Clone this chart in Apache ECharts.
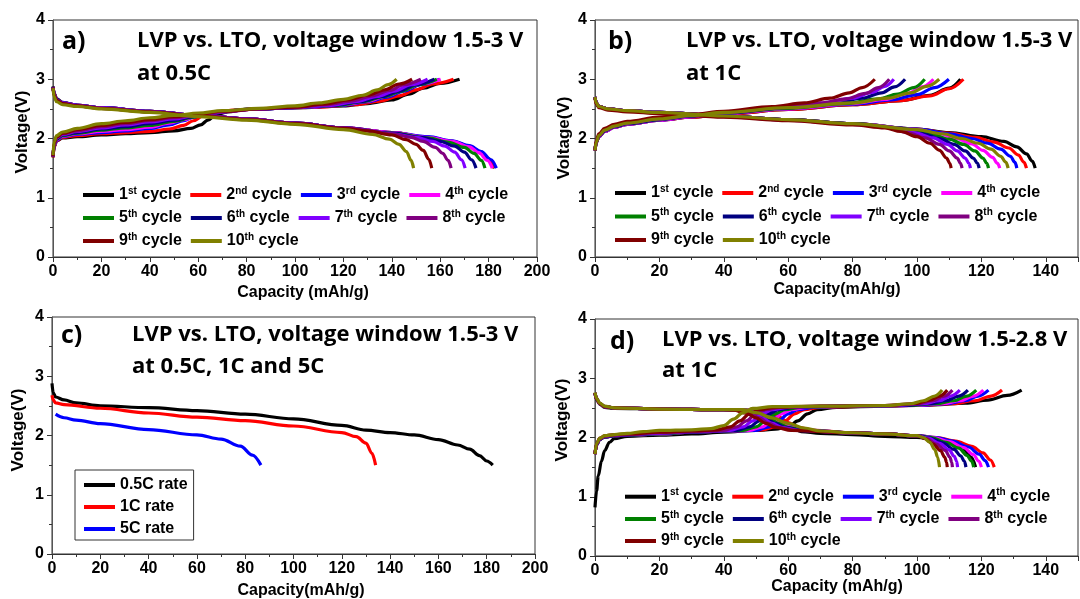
<!DOCTYPE html>
<html>
<head>
<meta charset="utf-8">
<script src="https://cdn.jsdelivr.net/npm/echarts/dist/echarts.min.js"></script>
<style>
html,body{margin:0;padding:0;background:#fff;}
#chart{width:1080px;height:599px;}
</style>
</head>
<body>
<div id="chart"></div>
<script>
// ---------------- DATA ----------------
const cycleNames = ['1st cycle','2nd cycle','3rd cycle','4th cycle','5th cycle','6th cycle','7th cycle','8th cycle','9th cycle','10th cycle'];
const cycleColors = ['#000000','#ff0000','#0000ff','#ff00ff','#008000','#000080','#8000ff','#800080','#800000','#808000'];
const rateNames = ['0.5C rate','1C rate','5C rate'];
const rateColors = ['#000000','#ff0000','#0000ff'];
const xTicksAC = [0,200];
const xTicksBD = [0,150];
const yRange = [0,4];

// Panel a: 1.5-3 V at 0.5C  [capacity mAh/g, voltage V]
const aDischarge = [
 [[0,2.88],[0.5,2.76],[1.5,2.67],[4,2.61],[10,2.56],[20,2.52],[40,2.46],[60,2.39],[80,2.33],[100,2.26],[120,2.18],[140,2.1],[155,2.02],[165,1.95],[172,1.87],[177,1.77],[180,1.66],[182.5,1.5]],
 [[0,2.87],[0.5,2.75],[1.5,2.66],[4,2.6],[10,2.56],[20,2.52],[40,2.46],[60,2.39],[80,2.33],[100,2.26],[120,2.18],[140,2.1],[155,2.02],[165,1.95],[172,1.86],[177,1.75],[180,1.64],[182,1.5]],
 [[0,2.87],[0.5,2.75],[1.5,2.66],[4,2.6],[10,2.56],[20,2.52],[40,2.46],[60,2.39],[80,2.33],[100,2.26],[120,2.18],[140,2.1],[155,2.03],[165,1.96],[172,1.88],[177,1.78],[181,1.64],[183.2,1.5]],
 [[0,2.87],[0.5,2.75],[1.5,2.66],[4,2.6],[10,2.56],[20,2.52],[40,2.46],[60,2.39],[80,2.33],[100,2.26],[120,2.18],[140,2.1],[155,2.02],[165,1.95],[172,1.86],[176,1.76],[179.5,1.63],[181.5,1.5]],
 [[0,2.87],[0.5,2.75],[1.5,2.66],[4,2.6],[10,2.56],[20,2.52],[40,2.46],[60,2.39],[80,2.33],[100,2.26],[120,2.18],[140,2.09],[155,2.01],[163,1.94],[170,1.85],[174,1.75],[177,1.63],[178.5,1.5]],
 [[0,2.87],[0.5,2.75],[1.5,2.66],[4,2.6],[10,2.56],[20,2.52],[40,2.46],[60,2.39],[80,2.33],[100,2.26],[120,2.18],[140,2.09],[152,2.02],[160,1.95],[166,1.87],[170,1.77],[173,1.64],[174.8,1.5]],
 [[0,2.86],[0.5,2.74],[1.5,2.65],[4,2.6],[10,2.56],[20,2.52],[40,2.46],[60,2.39],[80,2.33],[100,2.26],[120,2.18],[140,2.08],[150,2.02],[157,1.95],[162,1.87],[166,1.77],[168.8,1.64],[170.3,1.5]],
 [[0,2.86],[0.5,2.74],[1.5,2.65],[4,2.59],[10,2.55],[20,2.51],[40,2.45],[60,2.39],[80,2.33],[100,2.26],[120,2.18],[140,2.08],[148,2.02],[153,1.95],[158,1.85],[161,1.75],[163.3,1.63],[164.5,1.5]],
 [[0,2.86],[0.5,2.73],[1.5,2.64],[4,2.59],[10,2.55],[20,2.51],[40,2.45],[60,2.38],[80,2.32],[100,2.25],[120,2.17],[130,2.13],[140,2.06],[146,1.98],[150,1.9],[153,1.8],[155.3,1.65],[156.5,1.5]],
 [[0,2.85],[0.5,2.7],[1.5,2.62],[4,2.57],[10,2.54],[20,2.5],[40,2.44],[60,2.37],[80,2.31],[100,2.24],[120,2.15],[132,2.07],[139,1.99],[143,1.9],[146,1.78],[148,1.63],[149,1.5]]
];
const aCharge = [
 [[0,1.68],[0.5,1.86],[1.5,1.96],[4,2.01],[10,2.03],[20,2.06],[30,2.08],[40,2.1],[50,2.13],[57,2.17],[61,2.23],[64,2.31],[67,2.39],[72,2.45],[80,2.49],[100,2.52],[120,2.55],[130,2.59],[140,2.65],[147,2.75],[153,2.85],[160,2.93],[168,3.0]],
 [[0,1.68],[0.5,1.86],[1.5,1.96],[4,2.02],[10,2.05],[20,2.08],[30,2.1],[40,2.12],[48,2.16],[54,2.22],[58,2.3],[62,2.38],[67,2.44],[75,2.48],[90,2.51],[110,2.53],[125,2.57],[135,2.63],[143,2.72],[150,2.82],[157,2.92],[165.5,3.0]],
 [[0,1.7],[0.5,1.88],[1.5,1.97],[4,2.03],[10,2.07],[20,2.1],[30,2.13],[40,2.17],[48,2.23],[54,2.3],[58,2.36],[63,2.42],[70,2.46],[85,2.5],[105,2.53],[120,2.56],[130,2.62],[138,2.7],[145,2.8],[152,2.91],[159.8,3.0]],
 [[0,1.7],[0.5,1.88],[1.5,1.98],[4,2.04],[10,2.08],[20,2.12],[30,2.15],[40,2.19],[48,2.26],[54,2.32],[60,2.39],[68,2.45],[85,2.5],[105,2.53],[120,2.57],[130,2.63],[138,2.72],[145,2.82],[152,2.92],[160.2,3.0]],
 [[0,1.7],[0.5,1.89],[1.5,1.99],[4,2.05],[10,2.09],[20,2.14],[30,2.18],[40,2.22],[50,2.29],[58,2.36],[66,2.43],[80,2.49],[100,2.52],[118,2.56],[128,2.62],[137,2.71],[144,2.8],[151,2.91],[158.6,3.0]],
 [[0,1.7],[0.5,1.9],[1.5,2.0],[4,2.06],[10,2.1],[20,2.16],[30,2.2],[40,2.25],[50,2.31],[58,2.37],[66,2.43],[80,2.49],[100,2.52],[116,2.56],[127,2.62],[136,2.71],[143,2.8],[150,2.91],[157.6,3.0]],
 [[0,1.7],[0.5,1.9],[1.5,2.01],[4,2.07],[10,2.12],[20,2.18],[30,2.23],[40,2.28],[50,2.33],[58,2.38],[66,2.43],[80,2.49],[100,2.52],[115,2.56],[125,2.62],[134,2.71],[141,2.8],[148,2.91],[154.8,3.0]],
 [[0,1.7],[0.5,1.91],[1.5,2.02],[4,2.08],[10,2.13],[20,2.2],[30,2.25],[40,2.3],[50,2.35],[60,2.4],[70,2.45],[85,2.5],[100,2.53],[113,2.57],[123,2.63],[132,2.72],[139,2.81],[145,2.91],[152,3.0]],
 [[0,1.7],[0.5,1.92],[1.5,2.03],[4,2.09],[10,2.15],[20,2.22],[30,2.27],[40,2.32],[50,2.37],[60,2.41],[70,2.46],[85,2.5],[100,2.53],[112,2.58],[122,2.65],[130,2.73],[137,2.82],[143,2.92],[148.4,3.0]],
 [[0,1.72],[0.5,1.95],[1.5,2.05],[4,2.11],[10,2.17],[20,2.25],[30,2.3],[40,2.35],[50,2.39],[60,2.43],[70,2.47],[85,2.51],[100,2.55],[110,2.6],[120,2.66],[128,2.73],[134,2.82],[138.5,2.91],[142,3.0]]
];

// Panel b: 1.5-3 V at 1C
const bDischarge = [
 [[0,2.7],[0.4,2.6],[1.2,2.54],[4,2.5],[10,2.47],[20,2.44],[40,2.38],[60,2.32],[80,2.25],[100,2.16],[110,2.1],[120,2.03],[127,1.95],[131,1.86],[134,1.74],[135.8,1.62],[136.7,1.5]],
 [[0,2.7],[0.4,2.6],[1.2,2.54],[4,2.5],[10,2.47],[20,2.44],[40,2.38],[60,2.32],[80,2.25],[100,2.16],[110,2.09],[118,2.02],[124,1.94],[128.5,1.84],[131.5,1.72],[133.2,1.6],[134,1.5]],
 [[0,2.7],[0.4,2.6],[1.2,2.54],[4,2.5],[10,2.47],[20,2.44],[40,2.38],[60,2.32],[80,2.25],[100,2.16],[110,2.08],[117,2.0],[122,1.92],[126,1.82],[129,1.7],[130.4,1.6],[131,1.5]],
 [[0,2.7],[0.4,2.6],[1.2,2.54],[4,2.5],[10,2.47],[20,2.44],[40,2.38],[60,2.32],[80,2.25],[100,2.15],[107,2.08],[112,2.0],[117,1.91],[120.5,1.8],[123.5,1.68],[125,1.58],[125.7,1.5]],
 [[0,2.7],[0.4,2.6],[1.2,2.54],[4,2.5],[10,2.47],[20,2.44],[40,2.38],[60,2.32],[80,2.25],[95,2.17],[104,2.08],[110,1.99],[114.5,1.9],[118,1.79],[120.5,1.67],[121.7,1.58],[122.2,1.5]],
 [[0,2.7],[0.4,2.6],[1.2,2.54],[4,2.5],[10,2.47],[20,2.44],[40,2.38],[60,2.32],[80,2.25],[95,2.17],[102,2.08],[107,2.0],[111.5,1.9],[115,1.79],[117.5,1.67],[118.8,1.58],[119.3,1.5]],
 [[0,2.7],[0.4,2.6],[1.2,2.54],[4,2.5],[10,2.47],[20,2.44],[40,2.38],[60,2.31],[80,2.24],[90,2.2],[99,2.1],[105,2.01],[109.5,1.9],[112.5,1.79],[115,1.67],[116.1,1.58],[116.6,1.5]],
 [[0,2.7],[0.4,2.6],[1.2,2.54],[4,2.5],[10,2.47],[20,2.43],[40,2.37],[60,2.31],[80,2.24],[90,2.2],[97,2.1],[102.5,2.01],[107,1.9],[110,1.79],[112.5,1.67],[113.5,1.58],[114,1.5]],
 [[0,2.68],[0.4,2.58],[1.2,2.52],[4,2.48],[10,2.45],[20,2.42],[40,2.36],[60,2.3],[80,2.23],[90,2.18],[95,2.12],[100,2.03],[104,1.92],[107,1.8],[109.2,1.67],[110.2,1.58],[110.6,1.5]],
 [[0,2.7],[0.4,2.6],[1.2,2.54],[4,2.5],[10,2.47],[20,2.44],[40,2.38],[60,2.32],[80,2.25],[100,2.15],[108,2.08],[114,2.0],[119,1.92],[123,1.82],[126,1.7],[127.6,1.6],[128.3,1.5]]
];
const bCharge = [
 [[0,1.8],[0.4,1.93],[1.2,2.03],[3,2.12],[6,2.19],[10,2.24],[20,2.31],[30,2.36],[40,2.41],[60,2.49],[80,2.57],[95,2.64],[104,2.73],[110,2.85],[113.5,3.0]],
 [[0,1.8],[0.4,1.93],[1.2,2.03],[3,2.12],[6,2.19],[10,2.24],[20,2.31],[30,2.36],[40,2.41],[60,2.49],[80,2.57],[95,2.64],[104,2.72],[110,2.84],[114.4,3.0]],
 [[0,1.8],[0.4,1.93],[1.2,2.03],[3,2.12],[6,2.19],[10,2.24],[20,2.31],[30,2.37],[40,2.42],[60,2.5],[80,2.58],[92,2.65],[100,2.74],[105.5,2.86],[109.9,3.0]],
 [[0,1.8],[0.4,1.93],[1.2,2.03],[3,2.12],[6,2.19],[10,2.24],[20,2.31],[30,2.37],[40,2.42],[60,2.5],[80,2.59],[90,2.66],[97,2.76],[101.5,2.87],[105.1,3.0]],
 [[0,1.8],[0.4,1.94],[1.2,2.04],[3,2.13],[6,2.2],[10,2.25],[20,2.32],[30,2.38],[40,2.43],[60,2.51],[78,2.59],[88,2.67],[94,2.75],[99,2.86],[102.4,3.0]],
 [[0,1.8],[0.4,1.94],[1.2,2.04],[3,2.13],[6,2.2],[10,2.25],[20,2.32],[30,2.38],[40,2.43],[60,2.52],[75,2.6],[83,2.68],[89,2.77],[93,2.87],[96.3,3.0]],
 [[0,1.8],[0.4,1.95],[1.2,2.05],[3,2.14],[6,2.21],[10,2.26],[20,2.33],[30,2.39],[40,2.44],[60,2.53],[72,2.6],[80,2.68],[86,2.78],[90,2.88],[92.8,3.0]],
 [[0,1.8],[0.4,1.95],[1.2,2.05],[3,2.15],[6,2.22],[10,2.27],[20,2.34],[30,2.39],[40,2.44],[60,2.54],[70,2.6],[78,2.67],[84,2.76],[88,2.86],[91.4,3.0]],
 [[0,1.8],[0.4,1.97],[1.2,2.08],[3,2.17],[6,2.24],[10,2.29],[20,2.36],[30,2.41],[40,2.46],[55,2.54],[65,2.6],[73,2.68],[79,2.77],[83,2.86],[86.9,3.0]],
 [[0,1.8],[0.4,1.94],[1.2,2.05],[3,2.14],[6,2.21],[10,2.26],[20,2.33],[30,2.39],[40,2.44],[60,2.52],[80,2.6],[91,2.68],[98,2.77],[103,2.88],[106.9,3.0]]
];

// Panel c: discharge at 0.5C, 1C, 5C
const cRate05 = [[0,2.88],[0.5,2.72],[1.5,2.65],[5,2.6],[10,2.55],[20,2.5],[40,2.47],[60,2.42],[80,2.36],[100,2.28],[120,2.17],[130,2.09],[140,2.05],[150,2.01],[160,1.93],[168,1.84],[173,1.77],[177,1.66],[180,1.57],[182.5,1.5]];
const cRate1 = [[0,2.68],[0.5,2.6],[1.5,2.55],[5,2.52],[20,2.46],[40,2.38],[60,2.31],[80,2.25],[100,2.16],[120,2.05],[126,1.98],[130,1.87],[132.5,1.7],[134,1.5]];
const cRate5 = [[1.5,2.36],[5,2.3],[10,2.26],[20,2.2],[40,2.1],[60,2.01],[70,1.94],[78,1.82],[83,1.67],[86.5,1.5]];

// Panel d: 1.5-2.8 V at 1C
const dDischarge = [
 [[0,2.75],[0.5,2.64],[1.5,2.56],[3,2.51],[6,2.49],[20,2.48],[40,2.47],[50,2.46],[55,2.42],[58,2.3],[61,2.17],[64,2.1],[70,2.07],[80,2.05],[90,2.02],[100,2.0],[106,1.97],[111,1.9],[114.5,1.8],[116.8,1.67],[118.2,1.5]],
 [[0,2.75],[0.5,2.65],[1.5,2.57],[3,2.52],[6,2.5],[20,2.48],[40,2.47],[48,2.46],[53,2.43],[57,2.35],[60,2.25],[63,2.17],[68,2.12],[80,2.08],[90,2.06],[100,2.03],[106,2.0],[112,1.94],[117,1.85],[120.5,1.74],[122.8,1.62],[124,1.5]],
 [[0,2.75],[0.5,2.65],[1.5,2.57],[3,2.52],[6,2.5],[20,2.48],[40,2.47],[47,2.46],[52,2.42],[56,2.33],[59,2.24],[62,2.17],[67,2.12],[80,2.08],[90,2.06],[100,2.03],[106,2.0],[111,1.94],[116,1.84],[119.3,1.72],[121.2,1.61],[122.2,1.5]],
 [[0,2.75],[0.5,2.65],[1.5,2.57],[3,2.52],[6,2.5],[20,2.48],[40,2.47],[46,2.46],[51,2.42],[55,2.33],[58,2.24],[61,2.17],[66,2.12],[80,2.08],[90,2.06],[100,2.03],[105,2.0],[110,1.93],[114.5,1.83],[117.5,1.71],[119.2,1.6],[120,1.5]],
 [[0,2.75],[0.5,2.65],[1.5,2.57],[3,2.52],[6,2.5],[20,2.48],[40,2.47],[45,2.46],[50,2.42],[54,2.33],[57,2.24],[60,2.17],[65,2.12],[80,2.08],[90,2.06],[100,2.03],[104.5,2.0],[109,1.92],[113,1.82],[115.5,1.7],[117,1.6],[117.6,1.5]],
 [[0,2.75],[0.5,2.65],[1.5,2.57],[3,2.52],[6,2.5],[20,2.48],[40,2.47],[45,2.46],[49,2.42],[53,2.33],[56,2.24],[59,2.17],[64,2.12],[80,2.08],[90,2.06],[100,2.03],[104,1.99],[108,1.91],[111.5,1.8],[113.6,1.69],[114.7,1.6],[115.2,1.5]],
 [[0,2.75],[0.5,2.65],[1.5,2.57],[3,2.52],[6,2.5],[20,2.48],[40,2.47],[44,2.46],[48,2.42],[52,2.33],[55,2.24],[58,2.17],[63,2.12],[80,2.08],[90,2.06],[100,2.03],[103.5,1.99],[107,1.9],[110,1.79],[111.6,1.68],[112.3,1.6],[112.6,1.5]],
 [[0,2.75],[0.5,2.65],[1.5,2.57],[3,2.52],[6,2.5],[20,2.48],[40,2.47],[44,2.46],[48,2.41],[51,2.33],[54,2.24],[57,2.17],[62,2.12],[80,2.08],[90,2.06],[100,2.03],[103,1.98],[106,1.89],[108.8,1.78],[110.2,1.67],[110.8,1.58],[111,1.5]],
 [[0,2.75],[0.5,2.65],[1.5,2.57],[3,2.52],[6,2.5],[20,2.48],[40,2.47],[43,2.46],[47,2.41],[50,2.33],[53,2.24],[56,2.17],[61,2.12],[80,2.08],[90,2.06],[100,2.03],[102.5,1.98],[105,1.89],[107.3,1.78],[108.6,1.67],[109.2,1.58],[109.4,1.5]],
 [[0,2.76],[0.5,2.66],[1.5,2.58],[3,2.53],[6,2.5],[20,2.48],[40,2.47],[46,2.47],[50,2.42],[55,2.33],[60,2.24],[65,2.16],[70,2.11],[80,2.08],[90,2.06],[100,2.03],[102,2.0],[104,1.92],[105.5,1.8],[106.4,1.67],[107,1.5]]
];
const dCharge = [
 [[0,0.82],[0.5,1.1],[1,1.35],[2,1.6],[3,1.78],[4.5,1.92],[6,1.98],[10,2.02],[20,2.04],[30,2.06],[40,2.09],[50,2.12],[56,2.14],[60,2.18],[63,2.28],[66,2.4],[69,2.47],[75,2.51],[90,2.53],[105,2.55],[115,2.58],[122,2.63],[128,2.71],[132.5,2.8]],
 [[0,1.72],[0.5,1.88],[1.5,1.97],[3,2.01],[6,2.03],[10,2.04],[20,2.06],[30,2.09],[40,2.11],[52,2.13],[56,2.18],[59,2.28],[62,2.4],[65,2.47],[70,2.51],[85,2.53],[100,2.54],[111,2.57],[118,2.62],[123,2.7],[126.4,2.8]],
 [[0,1.72],[0.5,1.88],[1.5,1.97],[3,2.01],[6,2.03],[10,2.04],[20,2.06],[30,2.09],[40,2.11],[50,2.12],[54,2.18],[57,2.28],[60,2.4],[63,2.47],[68,2.51],[80,2.53],[100,2.54],[109,2.57],[115,2.62],[119,2.7],[122.2,2.8]],
 [[0,1.72],[0.5,1.88],[1.5,1.97],[3,2.01],[6,2.03],[10,2.04],[20,2.06],[30,2.09],[40,2.11],[48,2.12],[52,2.18],[55,2.28],[58,2.4],[61,2.47],[66,2.51],[80,2.53],[98,2.54],[108,2.57],[113.5,2.62],[117.5,2.7],[120.6,2.8]],
 [[0,1.72],[0.5,1.88],[1.5,1.97],[3,2.01],[6,2.03],[10,2.04],[20,2.06],[30,2.09],[40,2.11],[46,2.12],[50,2.18],[53,2.28],[56,2.4],[59,2.47],[64,2.51],[80,2.53],[97,2.54],[106,2.57],[111.5,2.62],[115.5,2.7],[118.4,2.8]],
 [[0,1.72],[0.5,1.88],[1.5,1.97],[3,2.01],[6,2.03],[10,2.04],[20,2.07],[30,2.09],[40,2.11],[44,2.12],[48,2.18],[51,2.28],[54,2.4],[57,2.47],[62,2.51],[75,2.53],[95,2.54],[104,2.57],[109,2.62],[113,2.7],[115.8,2.8]],
 [[0,1.72],[0.5,1.89],[1.5,1.98],[3,2.02],[6,2.04],[10,2.05],[20,2.07],[30,2.1],[38,2.11],[42,2.12],[46,2.18],[49,2.28],[52,2.4],[55,2.47],[60,2.51],[75,2.53],[92,2.54],[102,2.57],[107,2.62],[110.5,2.7],[113.3,2.8]],
 [[0,1.72],[0.5,1.89],[1.5,1.98],[3,2.02],[6,2.04],[10,2.05],[20,2.08],[30,2.1],[36,2.11],[40,2.12],[44,2.18],[47,2.28],[50,2.4],[53,2.47],[58,2.51],[70,2.53],[90,2.54],[100,2.57],[105,2.62],[108.5,2.7],[111,2.8]],
 [[0,1.72],[0.5,1.9],[1.5,1.99],[3,2.03],[6,2.05],[10,2.06],[20,2.09],[30,2.11],[38,2.13],[42,2.18],[45,2.28],[48,2.4],[51,2.47],[56,2.51],[70,2.53],[90,2.54],[99,2.57],[104,2.63],[107,2.7],[109.4,2.8]],
 [[0,1.72],[0.5,1.9],[1.5,1.99],[3,2.03],[6,2.05],[10,2.07],[15,2.1],[20,2.12],[30,2.13],[36,2.15],[40,2.2],[43,2.31],[46,2.42],[49,2.49],[55,2.52],[70,2.53],[90,2.54],[98,2.57],[102,2.62],[105.5,2.7],[107.8,2.8]]
];

// ---------------- CHART ----------------
const FONT = '"Liberation Sans", Arial, sans-serif';
const TFONT = '"Open Sans", Lato, sans-serif';
const chart = echarts.init(document.getElementById('chart'), null, {renderer:'canvas'});

const grids = [
  {left:53, top:20, width:484, height:237},
  {left:595, top:20, width:483, height:237},
  {left:52, top:317, width:483, height:237},
  {left:595, top:319, width:483, height:237}
];
const xMax = [xTicksAC[1], xTicksBD[1], xTicksAC[1], xTicksBD[1]];

const xAxes = [], yAxes = [];
grids.forEach((g,i)=>{
  xAxes.push({
    type:'value', gridIndex:i, min:0, max:xMax[i], interval:20, position:'bottom',
    axisLine:{show:true, onZero:false, lineStyle:{color:'#333', width:1}},
    axisTick:{show:true, inside:false, length:5, lineStyle:{color:'#333'}},
    minorTick:{show:true, splitNumber:2, length:3, lineStyle:{color:'#333'}},
    axisLabel:{show:true, margin:7, color:'#000', fontSize:16, fontWeight:'bold', fontFamily:FONT, showMaxLabel: xMax[i] === 200},
    splitLine:{show:false}
  });
  yAxes.push({
    type:'value', gridIndex:i, min:yRange[0], max:yRange[1], interval:1, position:'left',
    axisLine:{show:true, onZero:false, lineStyle:{color:'#555', width:1}},
    axisTick:{show:true, inside:false, length:5, lineStyle:{color:'#555'}},
    minorTick:{show:true, splitNumber:2, length:3, lineStyle:{color:'#555'}},
    axisLabel:{show:true, margin:8, color:'#000', fontSize:16, fontWeight:'bold', fontFamily:FONT},
    splitLine:{show:false}
  });
  yAxes.push({
    type:'value', gridIndex:i, min:yRange[0], max:yRange[1], interval:1, position:'right',
    axisLine:{show:false},
    axisTick:{show:true, inside:true, length:5, lineStyle:{color:'#333'}},
    minorTick:{show:true, splitNumber:2, length:3, lineStyle:{color:'#333'}},
    axisLabel:{show:false},
    splitLine:{show:false}
  });
});

const series = [];
function addLine(name, data, color, p){
  series.push({
    type:'line', name, data, xAxisIndex:p, yAxisIndex:p*2,
    symbol:'none', smooth:0.35, smoothMonotone:'x',
    lineStyle:{color, width:3.2}, itemStyle:{color},
    emphasis:{disabled:true}, silent:true, animation:false, z:2
  });
}
[[aDischarge,aCharge,0],[bDischarge,bCharge,1],[dDischarge,dCharge,3]].forEach(([dis,chg,p])=>{
  for(let i=0;i<10;i++){
    addLine(cycleNames[i], dis[i], cycleColors[i], p);
    addLine(cycleNames[i], chg[i], cycleColors[i], p);
  }
});
[cRate05,cRate1,cRate5].forEach((d,i)=>addLine(rateNames[i], d, rateColors[i], 2));

function legendFmt(name){
  const m = name.match(/^(\d+)(st|nd|rd|th)( cycle)$/);
  if(!m) return '{n|' + name + '}';
  return '{n|' + m[1] + '}{s|' + m[2] + '}{n|' + m[3] + '}';
}
const rich = {
  n:{fontSize:16, fontWeight:'bold', fontFamily:FONT, color:'#000', lineHeight:18},
  s:{fontSize:10, fontWeight:'bold', fontFamily:FONT, color:'#000', lineHeight:10, verticalAlign:'top'}
};
function rowLegend(names, left, cy, gap){
  return {
    show:true, left, top:cy-9, orient:'horizontal', icon:'rect', itemWidth:31, itemHeight:4,
    itemGap:gap, padding:0, selectedMode:false, data:names, formatter:legendFmt,
    textStyle:{rich, fontSize:16, fontWeight:'bold', fontFamily:FONT, color:'#000'}
  };
}
const legends = [];
[[83,[195,218,241]],[615,[193,216.5,240]],[625,[496.7,519,541]]].forEach(([left,rows])=>{
  legends.push(rowLegend(cycleNames.slice(0,4), left, rows[0], 9));
  legends.push(rowLegend(cycleNames.slice(4,8), left, rows[1], 9));
  legends.push(rowLegend(cycleNames.slice(8,10), left, rows[2], 9));
});
legends.push({
  show:true, left:75, top:470, orient:'vertical', icon:'rect', itemWidth:31, itemHeight:4,
  itemGap:6, padding:[7,6,3,9], borderColor:'#333', borderWidth:1, selectedMode:false,
  data:rateNames, formatter:legendFmt,
  textStyle:{fontSize:16, fontWeight:'bold', fontFamily:FONT, color:'#000', rich:{n:{fontSize:16, fontWeight:'bold', fontFamily:FONT, color:'#000', lineHeight:17}}}
});

function txt(text, x, y, font, rot){
  const o = {type:'text', x, y, silent:true, z:10,
    style:{text, font, fill:'#000', align: rot ? 'center':'left', verticalAlign:'middle'}};
  if(rot){ o.rotation = Math.PI/2; o.style.align = 'center'; }
  return o;
}
const TB = 'bold 22px ' + TFONT;
const LB = 'bold 25px ' + TFONT;
const AB = 'bold 16px ' + FONT;
const graphic = [
  txt('a)', 62, 42, LB), txt('LVP vs. LTO, voltage window 1.5-3 V', 137, 41, TB), txt('at 0.5C', 137, 74, TB),
  txt('b)', 608, 42, LB), txt('LVP vs. LTO, voltage window 1.5-3 V', 686, 41, TB), txt('at 1C', 686, 74, TB),
  txt('c)', 61, 336, LB), txt('LVP vs. LTO, voltage window 1.5-3 V', 132, 335, TB), txt('at 0.5C, 1C and 5C', 132, 367, TB),
  txt('d)', 610, 342, LB), txt('LVP vs. LTO, voltage window 1.5-2.8 V', 662, 340, TB), txt('at 1C', 662, 371, TB),
  {type:'text', x:303, y:293, silent:true, style:{text:'Capacity (mAh/g)', font:AB, fill:'#000', align:'center', verticalAlign:'middle'}},
  {type:'text', x:837, y:290, silent:true, style:{text:'Capacity(mAh/g)', font:AB, fill:'#000', align:'center', verticalAlign:'middle'}},
  {type:'text', x:301, y:591, silent:true, style:{text:'Capacity(mAh/g)', font:AB, fill:'#000', align:'center', verticalAlign:'middle'}},
  {type:'text', x:837, y:587, silent:true, style:{text:'Capacity (mAh/g)', font:AB, fill:'#000', align:'center', verticalAlign:'middle'}},
  txt('Voltage(V)', 22, 132, 'bold 17px ' + FONT, true),
  txt('Voltage(V)', 564, 138, 'bold 17px ' + FONT, true),
  txt('Voltage(V)', 18, 430, 'bold 17px ' + FONT, true),
  txt('Voltage(V)', 562, 420, 'bold 17px ' + FONT, true)
];

chart.setOption({
  animation:false,
  backgroundColor:'#ffffff',
  grid: grids.map(g=>Object.assign({show:true, borderColor:'#333', borderWidth:1, backgroundColor:'transparent'}, g)),
  xAxis:xAxes, yAxis:yAxes, series, legend:legends, graphic
});
</script>
</body>
</html>
